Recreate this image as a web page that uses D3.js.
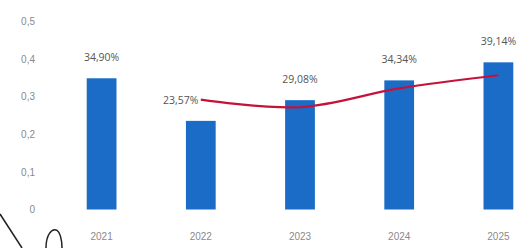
<!DOCTYPE html>
<html>
<head>
<meta charset="utf-8">
<script src="https://cdn.jsdelivr.net/npm/d3@7"></script>
<style>
  html, body { margin: 0; padding: 0; background: #fff; }
  svg { display: block; font-family: "Open Sans", "DejaVu Sans", sans-serif; }
  .tick text { fill: #8a8a8a; font-size: 10px; }
  .val { fill: #555; font-size: 10.5px; }
</style>
</head>
<body>
<svg id="chart"></svg>
<script>
/* ------------ DATA ---------------------------------------------------- */
const years     = ['2021', '2022', '2023', '2024', '2025'];
const barValues = [0.3490, 0.2357, 0.2908, 0.3434, 0.3914];
const barLabels = ['34,90%', '23,57%', '29,08%', '34,34%', '39,14%'];
const lineYears = ['2022', '2023', '2024', '2025'];
const lineValues = [0.292, 0.272, 0.322, 0.357];
const yTicks    = [0, 0.1, 0.2, 0.3, 0.4, 0.5];

/* ------------ SETUP --------------------------------------------------- */
const W = 531, H = 248;
const svg = d3.select('#chart').attr('width', W).attr('height', H);

const x = d3.scaleBand().domain(years).range([52, 548]).paddingInner(0.7).paddingOuter(0.35);
const y = d3.scaleLinear().domain([0, 0.5]).range([209.5, 21.5]);

const fmt = d => d === 0 ? '0' : d3.format('.1f')(d).replace('.', ',');

/* ------------ AXES ---------------------------------------------------- */
svg.append('g')
  .attr('transform', 'translate(35,0)')
  .call(d3.axisLeft(y).tickValues(yTicks).tickFormat(fmt).tickSize(0).tickPadding(0))
  .call(g => g.select('.domain').remove());

svg.append('g')
  .attr('transform', `translate(0,${y(0) + 23})`)
  .call(d3.axisBottom(x).tickSize(0).tickPadding(0))
  .call(g => g.select('.domain').remove());

/* ------------ BARS ---------------------------------------------------- */
const bars = years.map((yr, i) => ({ yr, v: barValues[i], label: barLabels[i] }));

svg.append('g').selectAll('rect')
  .data(bars)
  .join('rect')
    .attr('x', d => x(d.yr))
    .attr('y', d => y(d.v))
    .attr('width', x.bandwidth())
    .attr('height', d => y(0) - y(d.v))
    .attr('fill', '#1b6cc6');

/* ------------ LINE ---------------------------------------------------- */
const line = d3.line()
  .x(d => x(d.yr) + x.bandwidth() / 2)
  .y(d => y(d.v))
  .curve(d3.curveCatmullRom.alpha(0.5));

svg.append('path')
  .datum(lineYears.map((yr, i) => ({ yr, v: lineValues[i] })))
  .attr('d', line)
  .attr('fill', 'none')
  .attr('stroke', '#c5123c')
  .attr('stroke-width', 2.2);

/* ------------ VALUE LABELS ------------------------------------------- */
svg.append('g').selectAll('text')
  .data(bars)
  .join('text')
    .attr('class', 'val')
    .attr('x', (d, i) => x(d.yr) + x.bandwidth() / 2 - (i === 1 ? 20 : 0))
    .attr('y', d => y(d.v) - 17)
    .attr('text-anchor', 'middle')
    .text(d => d.label);

/* ------------ STRAY STROKES (bottom-left) --------------------------- */
svg.append('path')
  .attr('d', 'M0,214 L22,248')
  .attr('fill', 'none').attr('stroke', '#222').attr('stroke-width', 1.5);
svg.append('path')
  .attr('d', 'M46,248 C46,234 52,229 56,230 C60,231 62,240 62,248')
  .attr('fill', 'none').attr('stroke', '#222').attr('stroke-width', 1.5);
</script>
</body>
</html>
